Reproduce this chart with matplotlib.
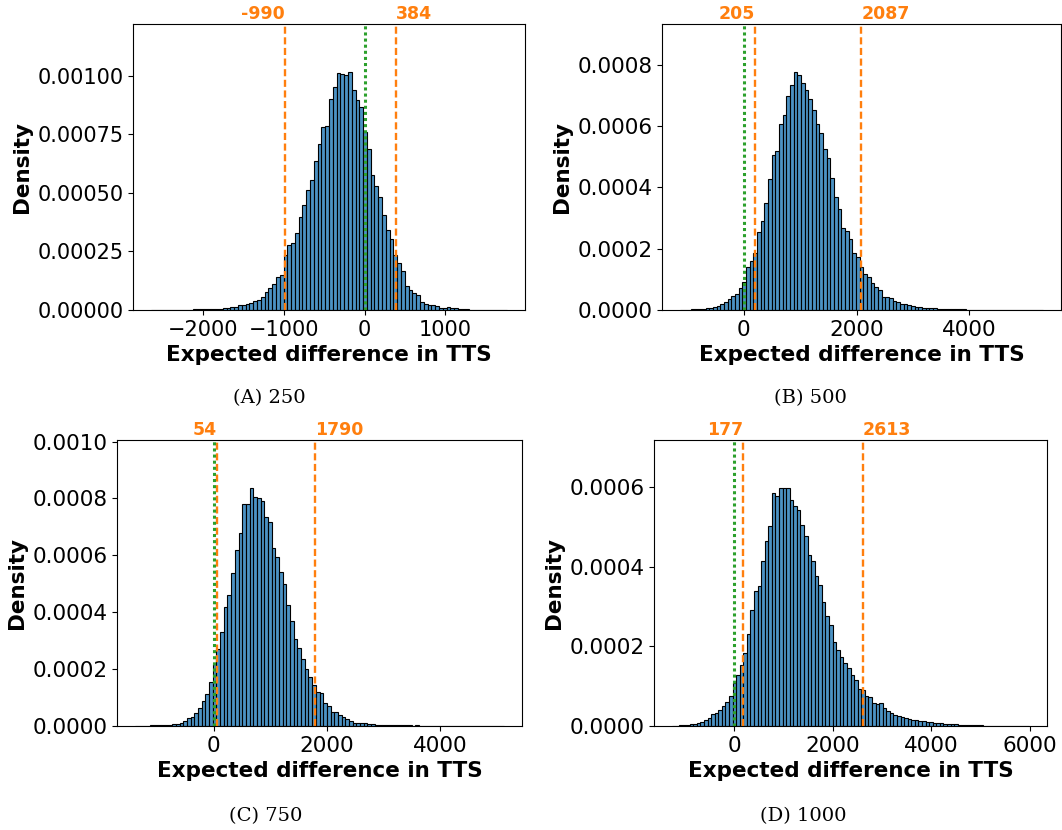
import numpy as np
import matplotlib
matplotlib.use("Agg")
import matplotlib.pyplot as plt
from matplotlib.colors import to_rgba

# =========================
# DATA  (density heights, in units of 1e-5)
# =========================

# panel (A) 250
start_250, width_250 = -2650, 47
dens_250 = [0.1, 0.0, 0.1, 0.1, 0.1, 0.1, 0.2, 0.2, 0.1, 0.2,
            0.2, 0.3, 0.3, 0.6, 0.6, 0.5, 0.4, 0.4, 0.5, 0.7,
            0.8, 1.1, 1.4, 2.0, 2.3, 2.6, 3.0, 3.8, 4.3, 5.4,
            7.5, 9.2, 11.3, 13.9, 14.8,
            23.4, 27.7, 28.8, 32.9, 39.7, 45.0, 51.3, 55.3, 63.4, 70.9,
            78.3, 78.7, 89.9, 95.3, 101.0, 100.7, 100.4, 101.7, 93.9, 89.6,
            86.8, 75.9, 68.5, 57.4, 52.9, 48.2, 40.4, 34.3, 30.2, 23.4,
            19.9, 16.7, 10.2, 8.5, 7.1, 6.5, 3.5, 2.6, 2.1, 2.3,
            1.7, 1.0, 0.9, 1.1, 0.8, 0.7,
            0.4, 0.3, 0.3, 0.2, 0.2, 0.1, 0.1, 0.1, 0.1, 0.0, 0.1, 0.0, 0.1]
ci_250 = (-990, 384)

# panel (B) 500
start_500, width_500 = -1130, 65
dens_500 = [0.1, 0.1, 0.1, 0.2, 0.2, 0.3, 0.4, 0.5, 0.7, 1.1,
            1.4, 2.0, 2.7, 3.5, 4.7, 5.2, 7.1, 9.3, 14.1, 16.1,
            18.7, 25.6, 29.2, 34.8, 42.7, 50.6, 52.0, 60.6, 63.7, 69.7,
            73.5, 77.8, 76.6, 74.2, 71.7, 68.9, 65.4, 60.8, 57.7, 52.5,
            49.5, 43.0, 36.8, 33.1, 26.8, 25.8, 23.1, 18.5, 17.2, 14.1,
            11.6, 10.7, 8.7, 7.4, 6.5, 4.4, 4.2, 3.8, 3.0, 2.5,
            2.0, 1.9, 1.5, 1.3, 1.1, 1.0, 0.8, 0.7, 0.5, 0.5,
            0.4, 0.4,
            0.3, 0.3, 0.2, 0.2, 0.2, 0.2, 0.1, 0.1, 0.1, 0.1, 0.1, 0.1, 0.1,
            0.1, 0.0, 0.1, 0.0, 0.1, 0.0, 0.0, 0.1, 0.0, 0.0, 0.0, 0.0, 0.1, 0.1]
ci_500 = (205, 2087)

# panel (C) 750
start_750, width_750 = -1380, 65
dens_750 = [0.1, 0.1, 0.1, 0.1, 0.2, 0.2, 0.3, 0.3, 0.4, 0.5,
            0.6, 0.8, 1.2, 1.8, 2.7, 3.3, 4.7, 6.2, 8.8, 11.3,
            15.6, 21.8, 27.2, 32.9, 42.0, 46.1, 53.9, 61.9, 67.8, 78.1,
            78.1, 83.8, 80.4, 80.0, 79.1, 73.6, 71.7, 62.7, 59.4, 54.0,
            49.8, 42.6, 36.8, 30.6, 27.5, 23.4, 19.9, 17.4, 14.4, 11.8,
            11.7, 8.0, 7.2, 4.8, 4.8, 4.0, 3.0, 2.5, 1.8, 1.2,
            1.2, 1.1, 0.9, 0.7, 0.6, 0.5, 0.4, 0.4,
            0.3, 0.3, 0.3, 0.2, 0.2, 0.2, 0.2, 0.1, 0.2, 0.1, 0.1, 0.1, 0.1,
            0.1, 0.1, 0.1, 0.1, 0.1, 0.0, 0.1, 0.0, 0.1, 0.0, 0.0, 0.0, 0.0,
            0.0, 0.1, 0.0, 0.0, 0.0, 0.1]
ci_750 = (54, 1790)

# panel (D) 1000
start_1000, width_1000 = -1270, 72.6
dens_1000 = [0.1, 0.1, 0.2, 0.3, 0.3, 0.4, 0.6, 0.8, 1.1, 1.5,
             2.1, 2.9, 3.3, 4.0, 5.0, 6.1, 7.5, 10.7, 12.8, 15.3,
             18.4, 23.2, 29.2, 33.9, 35.1, 41.4, 46.4, 50.1, 58.5, 57.6,
             59.7, 59.7, 59.8, 56.6, 55.1, 54.1, 50.5, 47.6, 43.0, 41.4,
             37.6, 35.3, 31.2, 27.6, 25.3, 21.1, 19.0, 17.4, 15.9, 14.5,
             12.8, 11.5, 9.2, 9.0, 7.5, 7.4, 5.8, 5.6, 5.8, 4.6,
             3.8, 3.3, 2.8, 2.6, 2.3, 2.1, 1.8, 1.5, 1.4, 1.3,
             1.2, 1.1, 0.9, 0.8, 0.75, 0.7, 0.6, 0.5, 0.5, 0.4,
             0.3, 0.3, 0.3, 0.2, 0.2, 0.2, 0.2, 0.1, 0.1, 0.1,
             0.1, 0.1, 0.1, 0.1, 0.0, 0.1, 0.0, 0.1, 0.0, 0.1]
ci_1000 = (177, 2613)

captions = ["(A) 250", "(B) 500", "(C) 750", "(D) 1000"]
xticks_all = [[-2000, -1000, 0, 1000], [0, 2000, 4000], [0, 2000, 4000], [0, 2000, 4000, 6000]]
ystep_all = [0.00025, 0.0002, 0.0002, 0.0002]
yfmt_all = ["{x:.5f}", "{x:.4f}", "{x:.4f}", "{x:.4f}"]
ticksize_all = [15, 15.5, 15.5, 15.5]

# =========================
# PLOT
# =========================

plt.rcParams["font.family"] = "DejaVu Sans"
plt.rcParams["font.size"] = 15

W, H = 1062, 830
fig = plt.figure(figsize=(W / 100, H / 100), dpi=100)

# axes boxes in pixels: left, top, right, bottom
boxes = [(133, 24, 525, 310), (662, 24, 1061, 310),
         (117, 440, 522, 726), (654, 440, 1047, 726)]
caption_pos = [(269, 398), (810, 398), (266, 816), (803, 816)]

panels = [(start_250, width_250, dens_250, ci_250),
          (start_500, width_500, dens_500, ci_500),
          (start_750, width_750, dens_750, ci_750),
          (start_1000, width_1000, dens_1000, ci_1000)]

bar_color = to_rgba("#1f77b4", 0.8)
orange = "#ff7f0e"
green = "#2ca02c"

for i, (start, width, dens, ci) in enumerate(panels):
    l, t, r, b = boxes[i]
    ax = fig.add_axes([l / W, 1 - b / H, (r - l) / W, (b - t) / H])

    vals = np.array(dens) * 1e-5
    lefts = start + width * np.arange(len(vals))
    ax.bar(lefts, vals, width=width, align="edge", color=bar_color,
           edgecolor="black", linewidth=0.8)

    top = vals.max() * 1.2
    ax.set_ylim(0, top)

    lo, hi = ci
    ax.axvline(lo, color=orange, linestyle=(0, (3, 1.5)), linewidth=1.7)
    ax.axvline(hi, color=orange, linestyle=(0, (3, 1.5)), linewidth=1.7)
    ax.axvline(0, color=green, linestyle=(0, (1, 1)), linewidth=2.2)

    ax.text(lo, top * 1.004, str(lo), ha="right", va="bottom", color=orange,
            fontweight="bold", fontsize=12.5)
    ax.text(hi, top * 1.004, str(hi), ha="left", va="bottom", color=orange,
            fontweight="bold", fontsize=12.5)

    ax.set_xticks(xticks_all[i])
    ax.set_yticks(np.arange(0, top, ystep_all[i]))
    ax.yaxis.set_major_formatter(matplotlib.ticker.StrMethodFormatter(yfmt_all[i]))
    ax.tick_params(labelsize=ticksize_all[i])

    ax.set_xlabel("Expected difference in TTS", fontweight="bold", fontsize=15.5)
    ax.set_ylabel("Density", fontweight="bold", fontsize=15.5)

    cx, cy = caption_pos[i]
    fig.text(cx / W, 1 - cy / H, captions[i], ha="center", va="center",
             family="DejaVu Serif", fontsize=14)

fig.savefig("out.png", dpi=100)
